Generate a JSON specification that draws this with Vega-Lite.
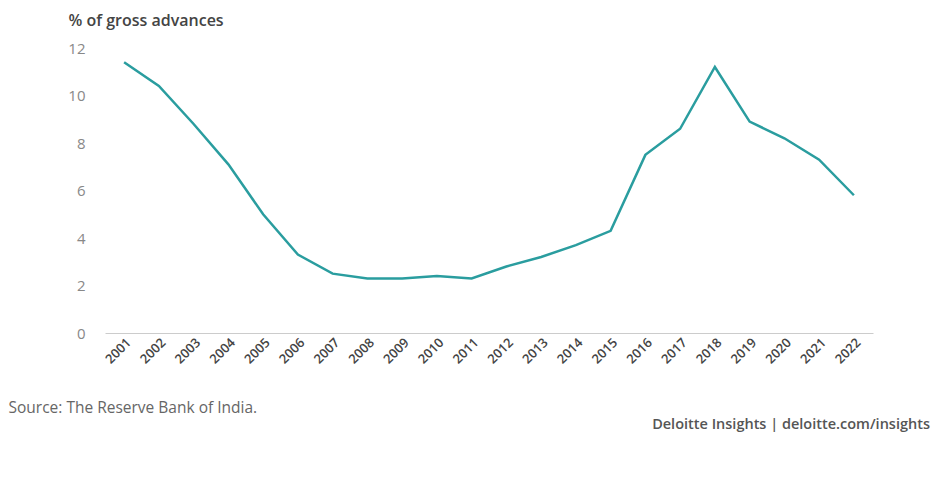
{
  "$schema": "https://vega.github.io/schema/vega-lite/v6.json",
  "autosize": "none",
  "width": 768,
  "height": 285,
  "padding": {"left": 105, "top": 48, "right": 65, "bottom": 148},
  "background": "white",
  "config": {
    "view": {"stroke": null},
    "font": "Open Sans"
  },
  "title": {
    "text": "Deloitte Insights | deloitte.com/insights",
    "orient": "bottom",
    "anchor": "end",
    "frame": "group",
    "dx": 57,
    "offset": 2,
    "font": "Open Sans",
    "fontSize": 14.5,
    "fontWeight": 600,
    "color": "#555555"
  },
  "data": {
    "values": [
      {"year": "2001", "value": 11.4},
      {"year": "2002", "value": 10.4},
      {"year": "2003", "value": 8.8},
      {"year": "2004", "value": 7.1},
      {"year": "2005", "value": 5.0},
      {"year": "2006", "value": 3.3},
      {"year": "2007", "value": 2.5},
      {"year": "2008", "value": 2.3},
      {"year": "2009", "value": 2.3},
      {"year": "2010", "value": 2.4},
      {"year": "2011", "value": 2.3},
      {"year": "2012", "value": 2.8},
      {"year": "2013", "value": 3.2},
      {"year": "2014", "value": 3.7},
      {"year": "2015", "value": 4.3},
      {"year": "2016", "value": 7.5},
      {"year": "2017", "value": 8.6},
      {"year": "2018", "value": 11.2},
      {"year": "2019", "value": 8.9},
      {"year": "2020", "value": 8.2},
      {"year": "2021", "value": 7.3},
      {"year": "2022", "value": 5.8}
    ]
  },
  "mark": {"type": "line", "color": "#2a9d9f", "strokeWidth": 2.5},
  "encoding": {
    "x": {
      "field": "year",
      "type": "ordinal",
      "scale": {"type": "point", "padding": 0.55},
      "axis": {
        "title": "Source: The Reserve Bank of India.",
        "titleAnchor": "start",
        "titleAlign": "left",
        "titleBaseline": "middle",
        "titleX": -97,
        "titleY": 74,
        "titleFont": "Open Sans",
        "titleFontSize": 15.5,
        "titleFontWeight": "normal",
        "titleColor": "#666666",
        "labelAngle": -45,
        "labelFont": "Open Sans",
        "labelFontSize": 13,
        "labelFontWeight": 600,
        "labelColor": "#444444",
        "labelPadding": 3,
        "ticks": false,
        "domainColor": "#cccccc",
        "domainWidth": 1,
        "grid": false
      }
    },
    "y": {
      "field": "value",
      "type": "quantitative",
      "scale": {"domain": [0, 12]},
      "axis": {
        "title": "% of gross advances",
        "titleAngle": 0,
        "titleAlign": "left",
        "titleBaseline": "middle",
        "titleX": -37,
        "titleY": -28,
        "titleFont": "Open Sans",
        "titleFontSize": 16,
        "titleFontWeight": 600,
        "titleColor": "#444444",
        "values": [0, 2, 4, 6, 8, 10, 12],
        "labelFont": "Open Sans",
        "labelFontSize": 15,
        "labelColor": "#888888",
        "labelPadding": 20,
        "ticks": false,
        "domain": false,
        "grid": false
      }
    }
  }
}
